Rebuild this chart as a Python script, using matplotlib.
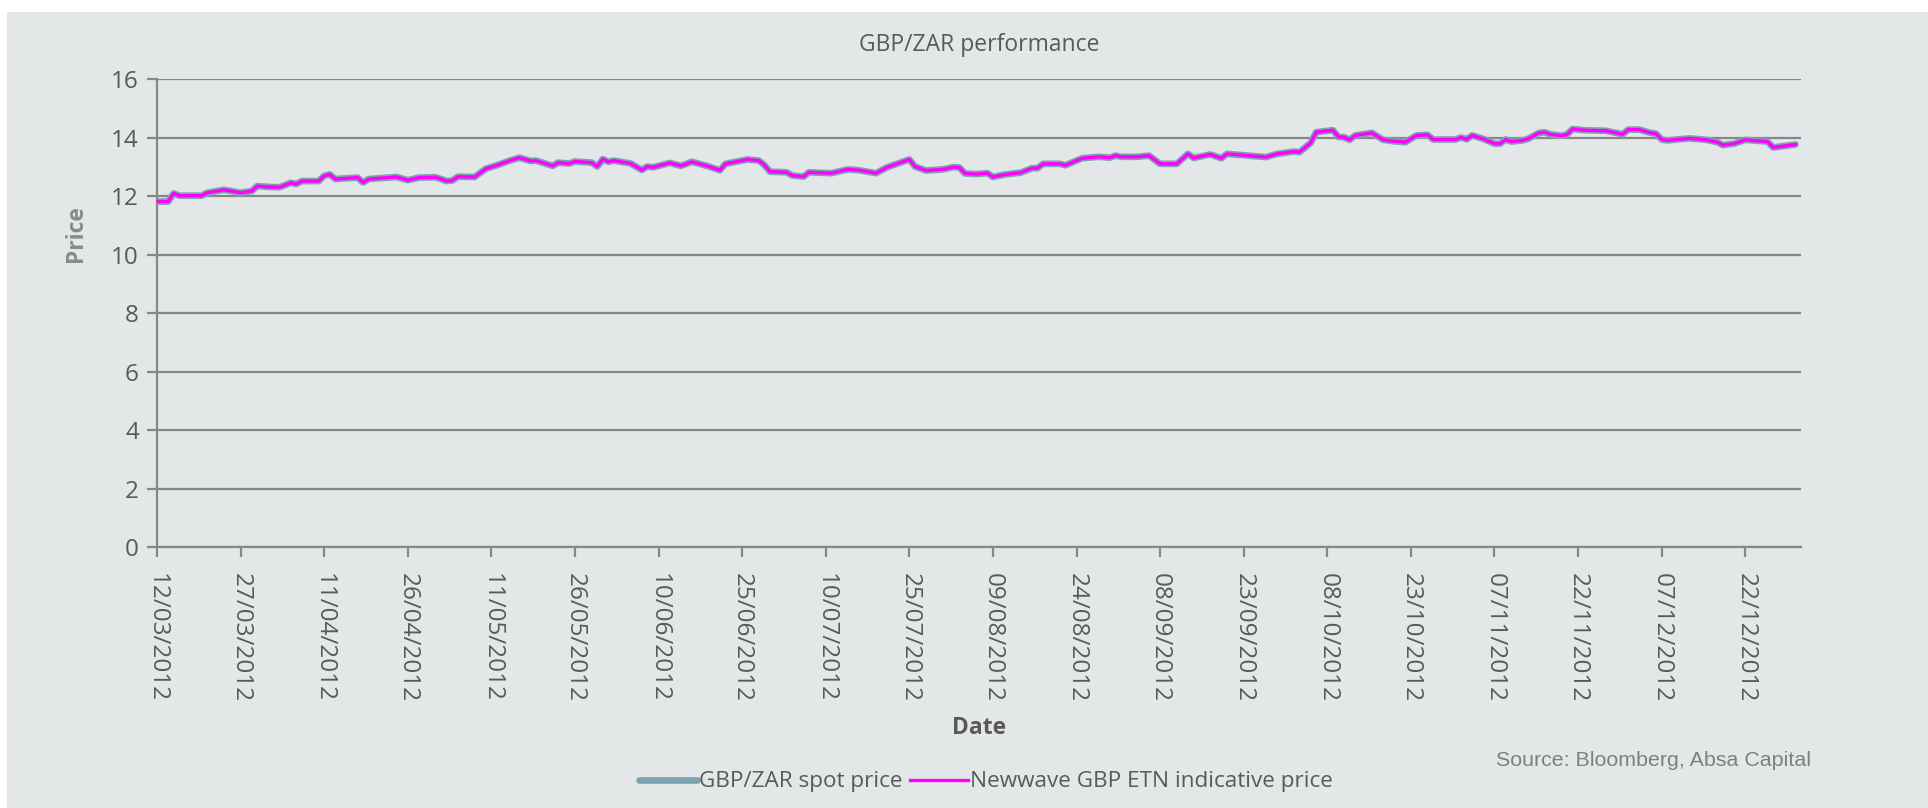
import matplotlib
matplotlib.use("Agg")
import matplotlib.pyplot as plt
import matplotlib.dates as mdates
from matplotlib.patches import Rectangle
import numpy as np
import datetime as dt

# ---- data ----
start_date = dt.date(2012, 3, 12)
end_date = dt.date(2013, 1, 1)
day_offsets = [0, 2, 3, 4, 8, 9, 12, 13, 15, 17, 18, 20, 22, 24, 25, 26, 29, 30, 31, 32,
               36, 37, 38, 40, 43, 45, 47, 50, 52, 53, 54, 57, 59, 61, 63, 65, 67, 68, 71, 72,
               74, 75, 78, 79, 80, 81, 82, 85, 87, 88, 89, 92, 94, 96, 99, 101, 102, 106, 108, 109,
               110, 113, 114, 116, 117, 121, 124, 126, 129, 131, 135, 136, 138, 141, 143, 144, 145, 147, 149, 150,
               152, 155, 157, 158, 159, 162, 163, 164, 166, 169, 171, 172, 173, 176, 178, 180, 183, 185, 186, 189,
               191, 192, 199, 201, 204, 205, 207, 208, 211, 212, 213, 214, 215, 218, 220, 222, 224, 226, 228, 229,
               233, 234, 235, 236, 238, 240, 241, 242, 243, 245, 246, 248, 249, 250, 252, 253, 254, 256, 260, 262,
               263, 264, 266, 268, 269, 270, 271, 275, 278, 280, 281, 283, 285, 287, 289, 290, 292, 294]
spot_price = [11.81, 11.81, 12.09, 12.01, 12.01, 12.11, 12.21, 12.18, 12.11, 12.17, 12.34, 12.31, 12.30, 12.45, 12.41, 12.51, 12.51, 12.69, 12.74, 12.58,
              12.63, 12.46, 12.58, 12.61, 12.65, 12.54, 12.63, 12.64, 12.51, 12.53, 12.66, 12.65, 12.93, 13.05, 13.19, 13.31, 13.20, 13.21, 13.03, 13.14,
              13.11, 13.18, 13.14, 13.01, 13.26, 13.17, 13.21, 13.11, 12.89, 13.01, 12.98, 13.13, 13.03, 13.17, 13.01, 12.88, 13.10, 13.25, 13.21, 13.06,
              12.83, 12.81, 12.70, 12.66, 12.81, 12.78, 12.91, 12.88, 12.78, 12.98, 13.25, 13.01, 12.87, 12.91, 12.99, 12.97, 12.77, 12.75, 12.78, 12.65,
              12.73, 12.80, 12.95, 12.95, 13.10, 13.10, 13.05, 13.13, 13.29, 13.34, 13.31, 13.38, 13.34, 13.34, 13.38, 13.10, 13.10, 13.44, 13.30, 13.42,
              13.29, 13.44, 13.33, 13.44, 13.52, 13.50, 13.81, 14.18, 14.25, 14.02, 14.01, 13.92, 14.07, 14.16, 13.92, 13.87, 13.84, 14.07, 14.09, 13.93,
              13.93, 14.00, 13.94, 14.07, 13.95, 13.79, 13.79, 13.93, 13.86, 13.90, 13.95, 14.16, 14.18, 14.11, 14.06, 14.10, 14.29, 14.25, 14.23, 14.15,
              14.11, 14.27, 14.27, 14.16, 14.13, 13.93, 13.90, 13.97, 13.92, 13.84, 13.74, 13.79, 13.92, 13.89, 13.86, 13.66, 13.71, 13.76]
etn_price = list(spot_price)
y_ticks = [0, 2, 4, 6, 8, 10, 12, 14, 16]
title = "GBP/ZAR performance"
series_names = ["GBP/ZAR spot price", "Newwave GBP ETN indicative price"]
source_text = "Source: Bloomberg, Absa Capital"

dates = [start_date + dt.timedelta(days=d) for d in day_offsets]
tick_dates = [start_date + dt.timedelta(days=15 * i) for i in range(20)]

# ---- styling ----
BG = "#E3E7E8"
GRID = "#878787"
TXT = "#595959"
W, H, DPI = 1928, 808, 100

fig = plt.figure(figsize=(W / DPI, H / DPI), dpi=DPI, facecolor="white")
fig.patches.append(Rectangle((7 / W, 0), 1 - 7 / W, 1 - 12 / H, transform=fig.transFigure,
                             facecolor=BG, edgecolor="none", zorder=-10))

ax = fig.add_axes([157 / W, 1 - 547 / H, (1801 - 157) / W, (547 - 79) / H])
ax.set_facecolor("none")

font = ["Open Sans", "DejaVu Sans"]

ax.plot(dates, spot_price, color="#7BA3AF", lw=4.8, solid_joinstyle="round",
        solid_capstyle="round", label=series_names[0], zorder=3)
ax.plot(dates, etn_price, color="#FF00FF", lw=2.4, solid_joinstyle="round",
        label=series_names[1], zorder=4)

ax.set_ylim(0, 16)
ax.set_yticks(y_ticks)
ax.set_xlim(start_date, end_date)
ax.set_xticks(tick_dates)
ax.xaxis.set_major_formatter(mdates.DateFormatter("%d/%m/%Y"))

ax.yaxis.grid(True, color=GRID, lw=1.6)
ax.set_axisbelow(True)
for s in ["top", "right"]:
    ax.spines[s].set_visible(False)
for s in ["left", "bottom"]:
    ax.spines[s].set_color(GRID)
    ax.spines[s].set_linewidth(1.6)

ax.tick_params(axis="both", colors=GRID, width=1.6, length=7, labelcolor=TXT, labelsize=17.5)
ax.tick_params(axis="x", pad=12)
ax.tick_params(axis="y", pad=6)
for lab in ax.get_xticklabels():
    lab.set_rotation(-90)
    lab.set_family(font)
    lab.set_ha("center")
    lab.set_va("top")
for lab in ax.get_yticklabels():
    lab.set_family(font)

fig.text(0.5 * (157 + 1801) / W, 1 - 45 / H, title, ha="center", va="center",
         fontsize=16.5, color=TXT, family=font)
fig.text(76 / W, 1 - 234 / H, "Price", rotation=90, ha="center", va="center",
         fontsize=16.5, color="#8A8A8A", fontweight="bold", family=font)
fig.text(0.5 * (157 + 1801) / W, 1 - 728 / H, "Date", ha="center", va="center",
         fontsize=16.5, color=TXT, fontweight="bold", family=font)
fig.text(1811 / W, 1 - 761 / H, source_text, ha="right", va="center",
         fontsize=15.4, color="#7F7F7F", family=["Liberation Sans Narrow", "Liberation Sans"])

leg = fig.legend(loc="center", bbox_to_anchor=(986 / W, 1 - 782 / H), ncol=2, frameon=False,
                 handlelength=2.6, handletextpad=0.1, columnspacing=0.3,
                 prop={"family": font, "size": 16.2})
for t in leg.get_texts():
    t.set_color(TXT)
leg.get_lines()[0].set_linewidth(4.8)
leg.get_lines()[1].set_linewidth(2.4)

fig.savefig("out.png", dpi=DPI, facecolor=fig.get_facecolor())
